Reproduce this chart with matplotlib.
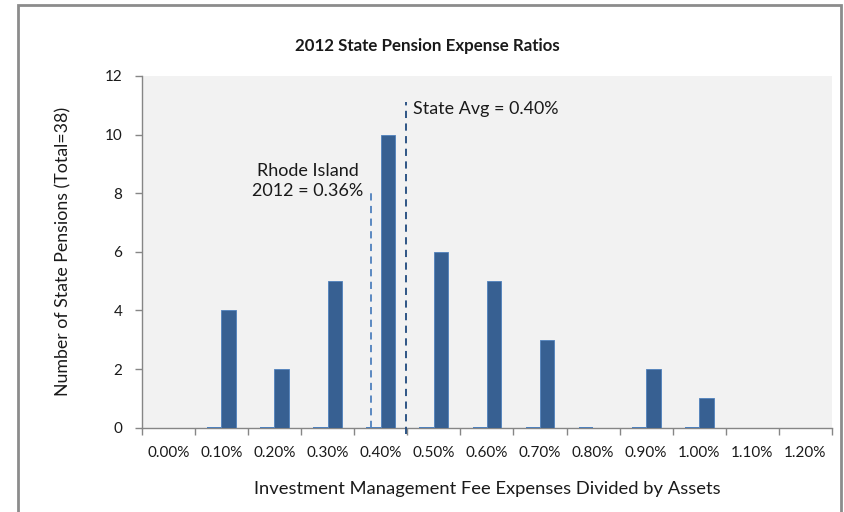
import matplotlib.pyplot as plt
import matplotlib.patches as patches
import numpy as np

plt.rcParams['font.family'] = ['Lato', 'DejaVu Sans']

# 数据
categories = ['0.00%', '0.10%', '0.20%', '0.30%', '0.40%', '0.50%', '0.60%',
              '0.70%', '0.80%', '0.90%', '1.00%', '1.10%', '1.20%']
counts = [0, 4, 2, 5, 10, 6, 5, 3, 0, 2, 1, 0, 0]
# 第二个系列全为0，只显示成一条细线
zero_series = [0, 0, 0, 0, 0, 0, 0, 0, 0, 0, 0, 0, 0]
zero_shown = [False, True, True, True, True, True, True, True, True, True, True, False, False]
yticks = [0, 2, 4, 6, 8, 10, 12]

# 参考线位置 (类别坐标)
ri_x = 3.82
avg_x = 4.48

fig = plt.figure(figsize=(8.44, 5.12), dpi=100)
ax = fig.add_axes([0.1679, 0.1646, 0.8179, 0.687])
ax.set_facecolor('#F2F2F2')

x = np.arange(len(categories))
w = 0.27
ax.bar(x + w / 2, counts, width=w, color='#376092', edgecolor='#4F81BD', linewidth=0.6, zorder=3)
for i in range(len(categories)):
    if zero_shown[i]:
        ax.bar(x[i] - w / 2, 0.04, width=w, bottom=zero_series[i], color='#4F81BD', zorder=3)

ax.set_xlim(-0.5, len(categories) - 0.5)
ax.set_ylim(0, 12)

ax.set_xticks(x)
ax.set_xticklabels(categories, fontsize=11, color='#1A1A1A')
ax.tick_params(axis='x', which='major', length=0, pad=13)
ax.set_xticks(np.arange(-0.5, len(categories)), minor=True)
ax.tick_params(axis='x', which='minor', length=5, color='#868686', width=1)

ax.set_yticks(yticks)
ax.set_yticklabels([str(v) for v in yticks], fontsize=11, color='#1A1A1A')
ax.tick_params(axis='y', length=5, color='#868686', width=1, pad=9)

for s in ['top', 'right']:
    ax.spines[s].set_visible(False)
for s in ['left', 'bottom']:
    ax.spines[s].set_color('#868686')
    ax.spines[s].set_linewidth(1)

# 虚线
ax.plot([ri_x, ri_x], [0, 8.1], color='#4F81BD', linestyle=(0, (4, 3)), linewidth=1.3, zorder=4)
ax.plot([avg_x, avg_x], [-0.2, 11.1], color='#1F497D', linestyle=(0, (4, 3)), linewidth=1.3,
        zorder=4, clip_on=False)

ax.text(2.62, 8.42, 'Rhode Island\n2012 = 0.36%', ha='center', va='center', fontsize=13,
        color='#1A1A1A', linespacing=1.35)
ax.text(4.61, 10.87, 'State Avg = 0.40%', ha='left', va='center', fontsize=12.9, color='#1A1A1A')

ax.set_xlabel('Investment Management Fee Expenses Divided by Assets', fontsize=13.2, color='#1A1A1A',
              labelpad=15)
ax.set_ylabel('Number of State Pensions (Total=38)', fontsize=12.8, color='#1A1A1A', labelpad=24)
fig.text(0.506, 0.91, '2012 State Pension Expense Ratios', ha='center', va='center',
         fontsize=12.2, fontweight='bold', color='#1A1A1A')

# 外框
frame = patches.Rectangle((18 / 844, -0.05), 823 / 844, 1 - 5 / 512 + 0.05, transform=fig.transFigure,
                          fill=False, edgecolor='#8C8C8C', linewidth=2, clip_on=False)
fig.patches.append(frame)

fig.savefig('out.png', dpi=100)
